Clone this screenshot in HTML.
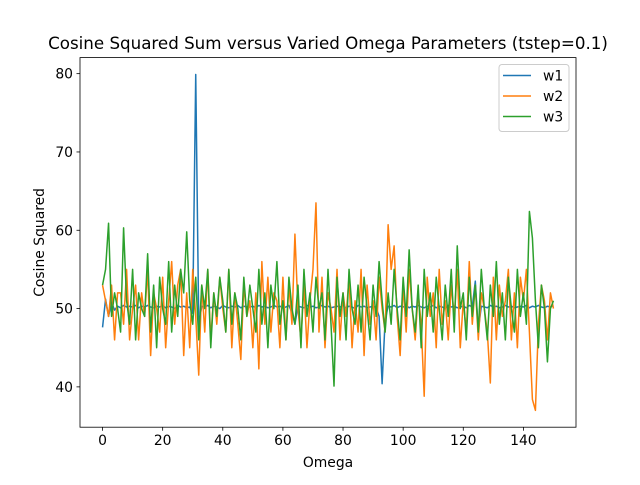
<!DOCTYPE html>
<html><head><meta charset="utf-8"><style>
body{margin:0;background:#fff;font-family:"Liberation Sans","DejaVu Sans",sans-serif}
svg text{font-family:"DejaVu Sans","Liberation Sans",sans-serif}
</style></head><body>
<svg id="chart" width="640" height="480" xmlns="http://www.w3.org/2000/svg"></svg>
<script>
const w1=[47.6,51.2,49.0,50.8,49.8,50.3,50.1,50.4,50.2,50.3,50.2,50.4,50.1,50.3,50.2,50.4,50.2,50.1,50.3,50.2,50.4,50.1,50.3,50.2,50.0,50.4,50.2,50.3,50.1,50.2,49.4,79.9,48.0,50.3,50.2,50.4,50.1,50.3,50.2,50.0,50.4,50.2,50.1,50.3,50.2,50.4,50.1,50.3,50.2,50.2,50.3,50.1,50.4,50.2,50.3,50.1,50.2,50.4,50.2,50.3,50.1,50.2,50.4,49.5,48.0,50.3,50.2,50.1,50.4,50.2,50.3,50.1,50.2,50.4,50.2,50.3,50.1,50.2,50.3,50.2,50.4,50.1,50.3,50.2,50.0,50.4,50.2,50.3,50.1,50.2,50.3,50.1,49.0,40.4,48.5,50.3,50.2,50.4,50.1,50.3,50.2,50.4,50.1,50.3,50.2,50.4,50.2,50.1,50.3,50.2,50.4,50.1,50.3,50.2,50.0,50.4,50.2,50.3,50.1,50.2,50.3,50.1,50.4,50.2,53.5,47.2,50.3,50.2,50.1,50.4,50.2,50.3,50.1,50.2,50.4,50.2,50.3,50.1,50.2,50.3,50.2,50.4,50.1,50.3,50.2,50.4,50.2,50.1,50.3,50.2,50.4];
const w2=[53,51,49,53,46,52,52,48,55,46,50,53,46,52,49,55,44,52,50,47,54,45,51,56,48,53,55,44,52,45,55,49,41.5,53,47,55,46,52,48,54,50,47,55,45,52,48,43.5,53,49,51,45,52,42.3,56,48,54,47,52,51,45,54,46,53,48,59.5,50,46,53,45,51,55,63.5,47,54,45,52,50,47,55,46,52,49,54,45,51,47,55,44,53,48,51,46,54,50,47,60.7,55,58,49,44,53,47,55,50,46,52,48,38.8,54,49,52,45,55,48,51,46,53,49,55,45,51,47,56,48,53,46,52,50,47,40.5,54,46,53,49,51,55,46,52,45,54,51,55,47,38.4,37.0,48,53,51,46,52,50];
const w3=[53,55,60.9,49,52,50,47,60.3,51,48,55,46,52,50,49,57,47,53,45,54,50,48,56,47,53,49,55,52,59.8,51,48,54,46,53,50,55,45,52,49,54,51,47,55,48,52,50,46,54,49,53,50,47,55,48,52,45,53,50,56,48,51,46,54,50,48,53,45,55,49,52,47,54,50,52,46,55,48,40.1,54,49,52,46,55,50,48,53,47,54,50,46,53,49,56,51,47,52,48,55,50,46,54,49,57.5,50,47,53,45,55,49,52,47,54,50,46,53,49,55,47,58,50,52,46,54,49,53,47,55,50,46,53,49,56,48,52,46,54,50,47,55,49,52,48,62.4,59.0,51,45,53,50,43.2,50,51];
const seriesNames=["w1","w2","w3"];
const colors=["#1f77b4","#ff7f0e","#2ca02c"];
const xTicks=[0,20,40,60,80,100,120,140];
const yTicks=[40,50,60,70,80];
const L=80,R=576,T=57.6,B=427.2;
const xmin=-7.5,xmax=157.5,ymin=34.85,ymax=82.05;
const sx=v=>L+(v-xmin)/(xmax-xmin)*(R-L);
const sy=v=>B-(v-ymin)/(ymax-ymin)*(B-T);
const NS="http://www.w3.org/2000/svg";
const svg=document.getElementById('chart');
function mk(t,a){const e=document.createElementNS(NS,t);for(const k in a)e.setAttribute(k,a[k]);svg.appendChild(e);return e;}
const all=[w1,w2,w3];
all.forEach((s,i)=>{
  const d=s.map((v,j)=>(j?'L':'M')+sx(j).toFixed(2)+','+sy(v).toFixed(2)).join('');
  const p=mk('path',{d:d,fill:'none',stroke:colors[i],'stroke-width':1.5,'stroke-linejoin':'round'});
  
  
});
const frame=mk('rect',{x:L,y:T,width:R-L,height:B-T,fill:'none',stroke:'#000','stroke-width':0.8});


xTicks.forEach(v=>{
  const x=sx(v);
  mk('line',{x1:x,x2:x,y1:B,y2:B+3.5,stroke:'#000','stroke-width':0.8});
  const t=mk('text',{x:x,y:B+18,'text-anchor':'middle','font-size':'13.9px'});
  t.textContent=v;
  
  
});
yTicks.forEach(v=>{
  const y=sy(v);
  mk('line',{x1:L,x2:L-3.5,y1:y,y2:y,stroke:'#000','stroke-width':0.8});
  const t=mk('text',{x:L-7,y:y+5,'text-anchor':'end','font-size':'13.9px'});
  t.textContent=v;
  
  
});
const xt=mk('text',{x:(L+R)/2,y:467,'text-anchor':'middle','font-size':'13.9px'});xt.textContent='Omega';


const yt=mk('text',{x:0,y:0,'text-anchor':'middle','font-size':'13.9px',transform:`translate(44,${(T+B)/2}) rotate(-90)`});yt.textContent='Cosine Squared';


const tt=mk('text',{x:(L+R)/2,y:49,'text-anchor':'middle','font-size':'16.7px'});tt.textContent='Cosine Squared Sum versus Varied Omega Parameters (tstep=0.1)';


const lg=mk('rect',{x:499,y:64.5,width:70,height:67,fill:'#fff','fill-opacity':0.8,stroke:'#ccc','stroke-width':1,rx:3});


seriesNames.forEach((n,i)=>{
  const y=75.5+i*20.5;
  mk('line',{x1:503,x2:531,y1:y,y2:y,stroke:colors[i],'stroke-width':1.5});
  const t=mk('text',{x:543,y:y+5,'font-size':'13.9px'});t.textContent=n;
  
  
});
</script>
</body></html>
